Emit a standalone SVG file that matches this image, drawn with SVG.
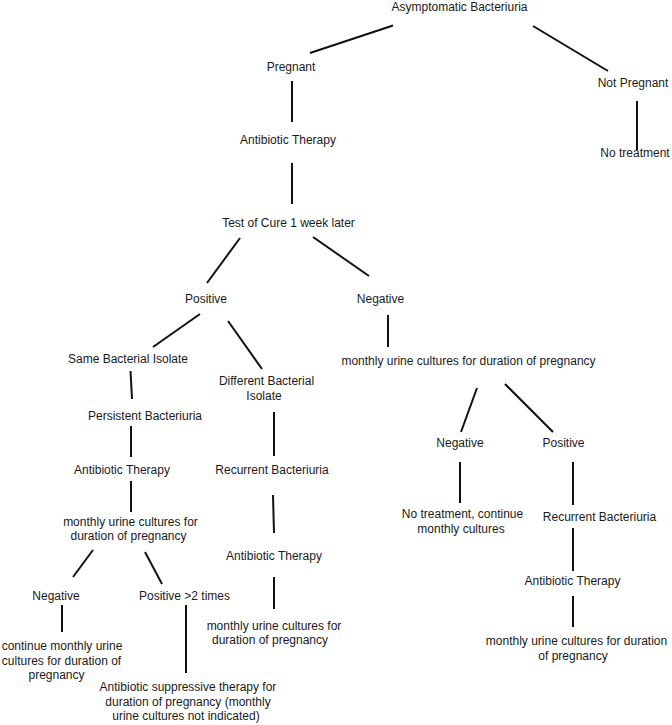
<svg xmlns="http://www.w3.org/2000/svg" width="672" height="725" viewBox="0 0 672 725">
<style>
text{font-family:"Liberation Sans",Arial,sans-serif;font-size:12px;fill:#1a1a1a;text-anchor:middle}
.c line{stroke:#111;stroke-width:2;stroke-linecap:butt}
</style>
<rect width="672" height="725" fill="#fff"/>
<g class="c" id="connectors">
<line x1="393" y1="25.5" x2="310" y2="53"/>
<line x1="533" y1="26" x2="608" y2="71"/>
<line x1="292" y1="81" x2="292" y2="122"/>
<line x1="292" y1="163" x2="292" y2="204"/>
<line x1="637" y1="101" x2="637" y2="150"/>
<line x1="240" y1="238" x2="207" y2="283"/>
<line x1="313" y1="237" x2="369" y2="276"/>
<line x1="200" y1="314" x2="153" y2="347"/>
<line x1="228" y1="321" x2="262" y2="369"/>
<line x1="130.5" y1="371" x2="132" y2="399"/>
<line x1="131" y1="426" x2="131" y2="457"/>
<line x1="274" y1="412" x2="274" y2="456"/>
<line x1="388" y1="315" x2="388" y2="347"/>
<line x1="477" y1="388" x2="461" y2="432"/>
<line x1="505" y1="384" x2="553" y2="432"/>
<line x1="460" y1="462" x2="460" y2="503"/>
<line x1="573" y1="462" x2="573" y2="505"/>
<line x1="573" y1="528" x2="573" y2="571"/>
<line x1="573" y1="596" x2="573" y2="627"/>
<line x1="131" y1="481" x2="131" y2="512"/>
<line x1="93" y1="550" x2="73" y2="577"/>
<line x1="145" y1="552" x2="162" y2="584"/>
<line x1="62" y1="605" x2="62" y2="632"/>
<line x1="186" y1="605" x2="186" y2="673"/>
<line x1="273" y1="495" x2="274" y2="533"/>
<line x1="274" y1="577" x2="274" y2="609"/>
</g>
<g id="n-root"><text x="459.5" y="11">Asymptomatic Bacteriuria</text></g>
<g id="n-pregnant"><text x="291" y="71">Pregnant</text></g>
<g id="n-notpregnant"><text x="633" y="87">Not Pregnant</text></g>
<g id="n-notreatment"><text x="635" y="157">No treatment</text></g>
<g id="n-abx1"><text x="288" y="144">Antibiotic Therapy</text></g>
<g id="n-testcure"><text x="288.5" y="227">Test of Cure 1 week later</text></g>
<g id="n-positive"><text x="206" y="303">Positive</text></g>
<g id="n-negative"><text x="380.5" y="303">Negative</text></g>
<g id="n-same"><text x="128" y="363">Same Bacterial Isolate</text></g>
<g id="n-different"><text x="266.5" y="385">Different Bacterial</text><text x="264" y="399.5">Isolate</text></g>
<g id="n-persistent"><text x="145" y="420">Persistent Bacteriuria</text></g>
<g id="n-abx-left"><text x="122" y="474">Antibiotic Therapy</text></g>
<g id="n-recurrent-mid"><text x="272" y="474">Recurrent Bacteriuria</text></g>
<g id="n-monthly-neg"><text x="468.5" y="365">monthly urine cultures for duration of pregnancy</text></g>
<g id="n-negative2"><text x="460" y="447">Negative</text></g>
<g id="n-positive2"><text x="563.5" y="447">Positive</text></g>
<g id="n-notreat2"><text x="462.5" y="518">No treatment, continue</text><text x="461" y="533">monthly cultures</text></g>
<g id="n-recurrent-right"><text x="599.5" y="521">Recurrent Bacteriuria</text></g>
<g id="n-abx-right"><text x="572.5" y="585">Antibiotic Therapy</text></g>
<g id="n-monthly-right"><text x="576.5" y="645">monthly urine cultures for duration</text><text x="573" y="660">of pregnancy</text></g>
<g id="n-monthly-left"><text x="130.5" y="526">monthly urine cultures for</text><text x="128.5" y="540">duration of pregnancy</text></g>
<g id="n-negative3"><text x="56" y="600">Negative</text></g>
<g id="n-positive3"><text x="184.5" y="600">Positive &gt;2 times</text></g>
<g id="n-continue"><text x="62" y="650">continue monthly urine</text><text x="61.5" y="664.5">cultures for duration of</text><text x="56.5" y="679">pregnancy</text></g>
<g id="n-suppressive"><text x="188" y="691">Antibiotic suppressive therapy for</text><text x="188" y="705.5">duration of pregnancy (monthly</text><text x="186" y="720">urine cultures not indicated)</text></g>
<g id="n-abx-mid"><text x="274" y="560">Antibiotic Therapy</text></g>
<g id="n-monthly-mid"><text x="274" y="629.5">monthly urine cultures for</text><text x="270" y="644">duration of pregnancy</text></g>
</svg>
